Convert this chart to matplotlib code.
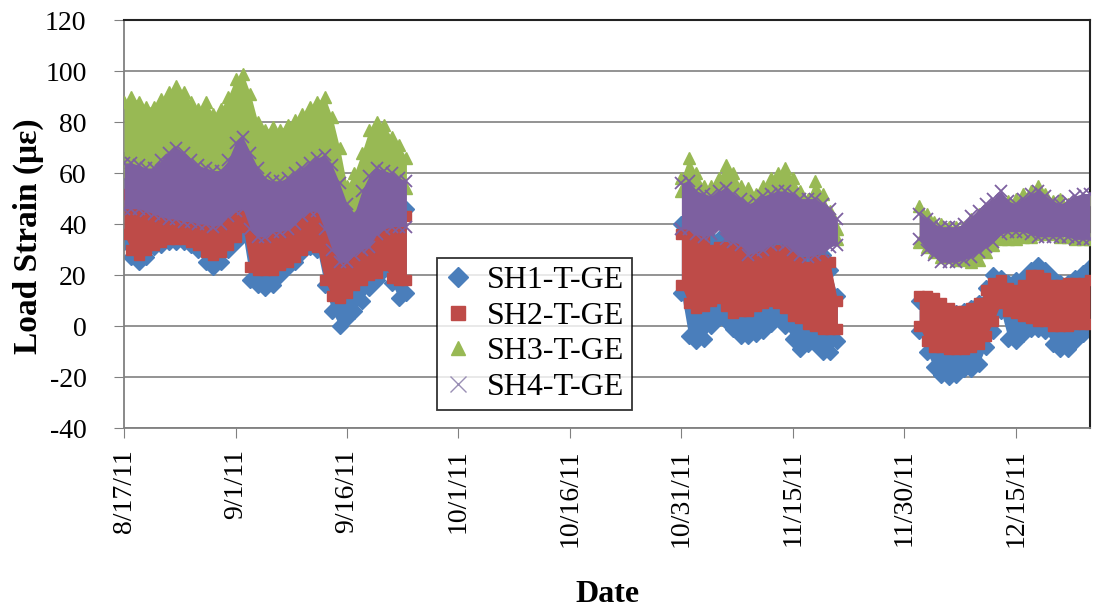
import datetime as dt
import numpy as np
import matplotlib
matplotlib.use('Agg')
import matplotlib.pyplot as plt
from matplotlib.lines import Line2D

plt.rcParams['font.family'] = ['Liberation Serif', 'DejaVu Serif']
plt.rcParams['axes.unicode_minus'] = False

# start date of each recording period (one reading per day: daily high / low)
period_starts = ['2011-08-17', '2011-10-31', '2011-12-02']

# SH1-T-GE
sh1_hi_1 = [65, 58, 54, 52, 51, 50, 49, 49, 48, 48, 47, 47, 46, 47, 50, 52, 53, 45, 42, 42,
            44, 44, 45, 47, 50, 52, 52, 45, 37, 32, 32, 35, 37, 38, 43, 45, 46, 46, 46]
sh1_lo_1 = [33, 27, 25, 27, 31, 32, 33, 33, 33, 32, 30, 25, 23, 25, 30, 33, 36, 18, 16, 15,
            16, 20, 23, 25, 29, 31, 30, 16, 6, 0, 3, 6, 10, 15, 18, 22, 17, 11, 13]
sh1_hi_2 = [40, 38, 36, 35, 34, 34, 34, 33, 33, 30, 31, 33, 34, 34, 33, 32, 30, 30, 30, 28, 22, 12]
sh1_lo_2 = [13, -4, -6, -5, 0, 3, 2, -1, -4, -4, -3, -2, 1, 3, 0, -5, -9, -7, -7, -10, -10, -6]
sh1_hi_3 = [10, 10, 9, 8, 6, 5, 6, 7, 9, 15, 20, 19, 17, 18, 19, 22, 24, 22, 19, 17, 17, 19, 21, 23]
sh1_lo_3 = [-2, -10, -16, -19, -20, -19, -17, -17, -15, -8, -2, 6, -5, -6, -3, -1, -1, -2, -7, -9,
            -9, -6, -3, -1]

# SH2-T-GE
sh2_hi_1 = [52, 50, 50, 49, 48, 47, 46, 46, 45, 45, 44, 44, 43, 44, 47, 49, 50, 42, 39, 39,
            41, 41, 42, 44, 47, 49, 49, 42, 34, 29, 29, 32, 34, 35, 40, 42, 43, 43, 43]
sh2_lo_1 = [36, 30, 28, 30, 32, 33, 34, 34, 34, 33, 32, 29, 28, 29, 32, 35, 39, 23, 22, 22,
            22, 24, 25, 27, 30, 32, 31, 18, 12, 11, 13, 16, 18, 20, 21, 24, 19, 18, 18]
sh2_hi_2 = [36, 37, 36, 34, 30, 31, 31, 31, 30, 26, 28, 30, 30, 30, 30, 29, 25, 23, 26, 26, 25, 10]
sh2_lo_2 = [16, 9, 7, 8, 10, 11, 8, 5, 6, 6, 8, 9, 10, 9, 7, 4, 3, 1, 0, -1, -1, -1]
sh2_hi_3 = [12, 12, 11, 9, 7, 6, 6, 7, 9, 14, 17, 18, 15, 14, 16, 20, 20, 19, 16, 16, 17, 17, 17, 18]
sh2_lo_3 = [0, -6, -8, -8, -9, -9, -9, -8, -7, -4, 2, 9, 6, 5, 4, 3, 2, 2, 0, 0, 0, 1, 1, 1]

# SH3-T-GE
sh3_hi_1 = [88, 90, 88, 86, 86, 89, 92, 94, 92, 88, 85, 88, 83, 85, 90, 97, 99, 91, 80, 77,
            78, 77, 79, 81, 83, 86, 88, 90, 82, 70, 55, 60, 68, 77, 80, 79, 74, 71, 66]
sh3_lo_1 = [61, 61, 60, 59, 59, 62, 65, 67, 65, 62, 60, 59, 58, 58, 62, 69, 71, 65, 59, 55,
            54, 54, 55, 57, 59, 61, 63, 64, 60, 52, 46, 42, 50, 56, 59, 58, 57, 55, 54]
sh3_hi_2 = [58, 66, 60, 55, 55, 58, 63, 60, 55, 54, 52, 55, 58, 60, 62, 58, 53, 50, 57, 52, 45, 38]
sh3_lo_2 = [53, 53, 50, 49, 48, 50, 51, 49, 47, 45, 46, 48, 49, 50, 50, 49, 47, 46, 47, 45, 40, 34]
sh3_hi_3 = [47, 44, 41, 40, 39, 39, 39, 42, 44, 46, 48, 50, 49, 50, 52, 53, 55, 52, 49, 50, 48, 49, 50, 50]
sh3_lo_3 = [33, 31, 29, 27, 27, 26, 26, 25, 26, 29, 32, 34, 34, 34, 35, 35, 36, 36, 36, 35, 35, 34, 34, 34]

# SH4-T-GE
sh4_hi_1 = [64, 64, 63, 62, 62, 65, 68, 70, 68, 65, 63, 62, 61, 61, 65, 72, 74, 68, 62, 58,
            57, 57, 58, 60, 62, 64, 66, 67, 63, 56, 48, 44, 53, 59, 62, 61, 60, 58, 57]
sh4_lo_1 = [46, 46, 46, 45, 44, 43, 42, 42, 41, 41, 40, 40, 39, 40, 43, 45, 46, 38, 35, 35,
            37, 37, 38, 40, 43, 45, 45, 38, 30, 25, 25, 28, 30, 31, 36, 38, 39, 39, 39]
sh4_hi_2 = [56, 57, 53, 52, 51, 53, 54, 52, 50, 48, 49, 51, 52, 53, 53, 52, 50, 50, 50, 48, 46, 42]
sh4_lo_2 = [38, 38, 36, 35, 36, 38, 34, 33, 32, 28, 29, 30, 32, 33, 32, 30, 28, 27, 28, 29, 31, 32]
sh4_hi_3 = [44, 42, 40, 39, 39, 39, 40, 43, 45, 48, 50, 53, 49, 48, 50, 52, 53, 51, 49, 48, 49, 51, 52, 52]
sh4_lo_3 = [34, 30, 28, 25, 25, 25, 26, 27, 29, 31, 33, 36, 37, 37, 37, 36, 35, 35, 35, 35, 35, 34, 34, 34]

series_names = ['SH1-T-GE', 'SH2-T-GE', 'SH3-T-GE', 'SH4-T-GE']
tick_dates = ['2011-08-17', '2011-09-01', '2011-09-16', '2011-10-01', '2011-10-16',
              '2011-10-31', '2011-11-15', '2011-11-30', '2011-12-15']
tick_labels = ['8/17/11', '9/1/11', '9/16/11', '10/1/11', '10/16/11',
               '10/31/11', '11/15/11', '11/30/11', '12/15/11']

colors = ['#4A7EBB', '#BE4B48', '#98B954', '#7D60A0']
markers = ['D', 's', '^', 'x']
msizes = [8, 7.5, 8.5, 9]

his = [[sh1_hi_1, sh1_hi_2, sh1_hi_3], [sh2_hi_1, sh2_hi_2, sh2_hi_3],
       [sh3_hi_1, sh3_hi_2, sh3_hi_3], [sh4_hi_1, sh4_hi_2, sh4_hi_3]]
los = [[sh1_lo_1, sh1_lo_2, sh1_lo_3], [sh2_lo_1, sh2_lo_2, sh2_lo_3],
       [sh3_lo_1, sh3_lo_2, sh3_lo_3], [sh4_lo_1, sh4_lo_2, sh4_lo_3]]

fig = plt.figure(figsize=(10.93, 6.09), dpi=100)
ax = fig.add_axes([0.1135, 0.297, 0.8838, 0.670])

for k in range(4):
    for p, start in enumerate(period_starts):
        hi = np.array(his[k][p])
        lo = np.array(los[k][p])
        days = np.datetime64(start) + np.arange(len(hi)).astype('timedelta64[D]')
        days = days.astype('datetime64[ms]').astype(dt.datetime)
        ax.fill_between(days, lo, hi, color=colors[k], lw=0, zorder=2 + k)
        for vals in (hi, lo):
            if markers[k] == 'x':
                ax.plot(days, vals, ls='none', marker='x', ms=msizes[k], mew=1.3,
                        color=colors[k], zorder=2 + k)
            else:
                ax.plot(days, vals, ls='none', marker=markers[k], ms=msizes[k],
                        color=colors[k], mec=colors[k], zorder=2 + k)

ax.set_ylim(-40, 120)
ax.set_yticks(np.arange(-40, 121, 20))
ax.set_xlim(dt.datetime(2011, 8, 17), dt.datetime(2011, 12, 25))
ax.set_xticks([dt.datetime.strptime(d, '%Y-%m-%d') for d in tick_dates])
ax.set_xticklabels(tick_labels, rotation=90, fontsize=20)
ax.tick_params(axis='y', labelsize=20, direction='out', length=7, color='#808080', pad=20)
ax.tick_params(axis='x', direction='out', length=7, color='#808080', pad=8)

ax.grid(axis='y', color='#8a8a8a', lw=1.3, zorder=1)
ax.set_axisbelow(True)
for s in ['left', 'bottom']:
    ax.spines[s].set_color('#808080')
    ax.spines[s].set_linewidth(1.3)
for s in ['top', 'right']:
    ax.spines[s].set_color('#222222')
    ax.spines[s].set_linewidth(1.5)

ax.set_ylabel('Load Strain (\u03bc\u03b5)', fontsize=24, fontweight='bold')
ax.yaxis.set_label_coords(-0.083, 0.47)
ax.set_xlabel('Date', fontsize=23, fontweight='bold', labelpad=24)

handles = []
for k in range(4):
    if markers[k] == 'x':
        h = Line2D([], [], ls='none', marker='x', ms=11, mew=1.0, color='#9A8FB5')
    else:
        h = Line2D([], [], ls='none', marker=markers[k], ms=10, color=colors[k])
    handles.append(h)
leg = ax.legend(handles, series_names, loc='lower left', bbox_to_anchor=(0.324, 0.044),
                fontsize=23, frameon=True, fancybox=False, borderpad=0.25,
                handlelength=0.8, handletextpad=0.5, labelspacing=0.2, borderaxespad=0)
leg.get_frame().set_edgecolor('black')
leg.get_frame().set_linewidth(1.3)
leg.set_zorder(10)

fig.savefig('out.png', dpi=100)
